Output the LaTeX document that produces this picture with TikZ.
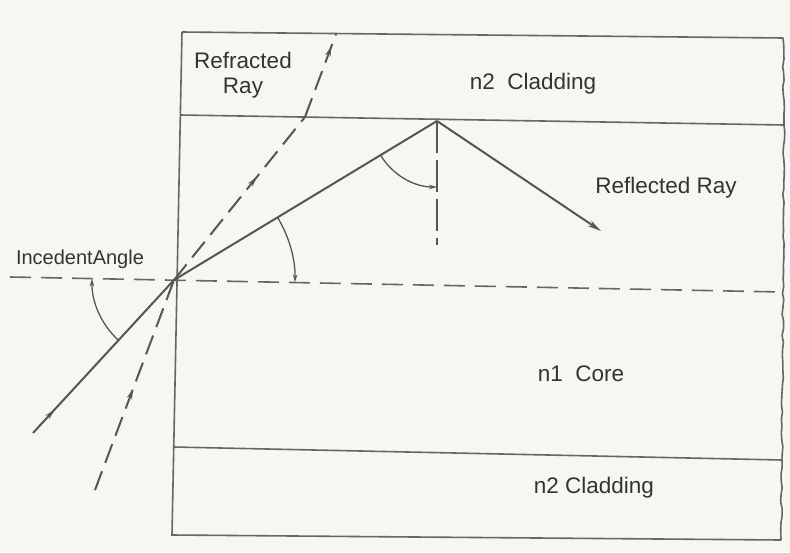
\documentclass[tikz,border=0pt]{standalone}
\usepackage{fontspec}
\setmainfont{Liberation Sans}
\usetikzlibrary{arrows.meta,decorations.markings,decorations.pathmorphing}
\definecolor{ln}{HTML}{555555}
\definecolor{bx}{HTML}{666666}
\definecolor{tx}{HTML}{333333}
\definecolor{bg}{HTML}{F6F6F3}
\begin{document}
\begin{tikzpicture}[x=1pt,y=-1pt,
  edge/.style={draw=bx, line width=1.6pt},
  ray/.style={draw=ln, line width=2pt},
  dashray/.style={ray, dash pattern=on 20pt off 9pt},
  normalline/.style={draw=ln, line width=1.5pt, dash pattern=on 32pt off 7pt},
  axisline/.style={draw=bx, line width=1.6pt, dash pattern=on 21pt off 10pt},
  anglearc/.style={draw=ln, line width=1.3pt, -{Stealth[length=8pt,width=4.5pt]}},
  lbl/.style={text=tx, font=\fontsize{22.5}{25}\selectfont, inner sep=0pt},
  midarrow/.style={postaction={decorate}, decoration={markings,
    mark=at position #1 with {\arrow{Stealth[length=10pt,width=5.5pt]}}}}
]
\fill[bg] (0,0) rectangle (790,552);
\useasboundingbox (0,0) rectangle (790,552);

% box corners and layer boundaries
\coordinate (TL) at (182,32);
\coordinate (TR) at (783,38);
\coordinate (L1) at (180.3,115);
\coordinate (R1) at (784,125);
\coordinate (L2) at (173.7,447);
\coordinate (R2) at (782,460);
\coordinate (BL) at (172,535);
\coordinate (BR) at (781,540);
\coordinate (DL) at (10,277);
\coordinate (DR) at (782,292);

% key points of the rays
\coordinate (P) at (174,280);
\coordinate (A) at (33,433);
\coordinate (R) at (437,121);
\coordinate (E) at (601,231);
\coordinate (N) at (437,245);
\coordinate (B) at (95,490);
\coordinate (Q) at (305,117);
\coordinate (T) at (336,34);

% box
\draw[edge] (TL) -- (TR);
\draw[edge] (TL) -- (BL) -- (BR);
\draw[edge, decorate, decoration={random steps, segment length=7pt, amplitude=0.9pt}] (TR) -- (R1) -- (R2) -- (BR);
\draw[edge] (L1) -- (R1);
\draw[edge] (L2) -- (R2);
\draw[axisline] (DL) -- (DR);

% rays
\draw[ray, midarrow=0.15] (A) -- (P);
\draw[ray] (P) -- (R);
\draw[ray, -{Stealth[length=14pt,width=6.5pt]}] (R) -- (E);
\draw[normalline] (R) -- (N);
\draw[dashray, midarrow=0.48] (B) -- (P);
\draw[dashray, midarrow=0.63] (P) -- (Q);
\draw[dashray, midarrow=0.85] (Q) -- (T);

% angle arcs
\draw[anglearc] ([shift={(132.7:82)}]P) arc[start angle=132.7, end angle=181, radius=82];
\draw[anglearc] ([shift={(-31.2:121)}]P) arc[start angle=-31.2, end angle=1.1, radius=121];
\draw[anglearc] ([shift={(148.8:66)}]R) arc[start angle=148.8, end angle=90, radius=66];

% labels
\node[lbl, align=center] (refr) at (243,75) {Refracted\\Ray};
\node[lbl] (clad1) at (533,84) {n2\ \ Cladding};
\node[lbl] (refl) at (666,188) {Reflected Ray};
\node[lbl, font=\fontsize{20}{23}\selectfont] (inc) at (80,259) {IncedentAngle};
\node[lbl] (core) at (581,374) {n1\ \ Core};
\node[lbl] (clad2) at (594,488) {n2 Cladding};
\end{tikzpicture}
\end{document}
